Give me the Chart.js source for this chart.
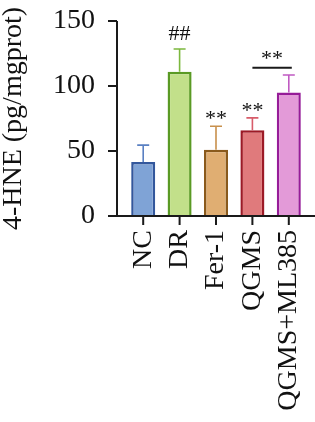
<!DOCTYPE html>
<html>
<head>
<meta charset="utf-8">
<script src="https://cdn.jsdelivr.net/npm/chart.js@4"></script>
<style>
    html, body { margin: 0; padding: 0; background: #fff; }
    #wrap { position: relative; width: 315px; height: 422px; }
</style>
</head>
<body>
<div id="wrap"><canvas id="chart1"></canvas></div>
<script>
const groups = ["NC", "DR", "Fer-1", "QGMS", "QGMS+ML385"];
const means = [41.5, 111, 51, 66, 95];
const errors = [13, 17.5, 18, 9.5, 13.5];
const marks = ["", "##", "**", "**", ""];
const yTicks = [0, 50, 100, 150];
// bracket between QGMS and QGMS+ML385
const bracketFrom = 3, bracketTo = 4, bracketValue = 114, bracketMark = "**";

const fills = ["#7fa3d6", "#c2e08a", "#e0ae72", "#e07a7c", "#e39ad8"];
const borders = ["#33579c", "#5a9a24", "#8a5a1c", "#9c1a26", "#961c98"];
const errColors = ["#5a80c2", "#7cb83e", "#c8904c", "#d85c6a", "#c05ac2"];

const serif = "'Times New Roman', 'Liberation Serif', 'DejaVu Serif', serif";
const axisColor = "#1a1a1a";

const extras = {
    id: "extras",
    afterDatasetsDraw(chart) {
        const { ctx, chartArea } = chart;
        const x = chart.scales.x, y = chart.scales.y;
        const axisX = chartArea.left - 8;
        const zeroY = y.getPixelForValue(0);
        ctx.save();

        // error bars (upper only)
        chart.getDatasetMeta(0).data.forEach((bar, i) => {
            const top = y.getPixelForValue(means[i] + errors[i]);
            ctx.strokeStyle = errColors[i];
            ctx.lineWidth = 1.6;
            ctx.beginPath();
            ctx.moveTo(bar.x, bar.y);
            ctx.lineTo(bar.x, top);
            ctx.moveTo(bar.x - 6, top);
            ctx.lineTo(bar.x + 6, top);
            ctx.stroke();
        });

        // axes
        ctx.strokeStyle = axisColor;
        ctx.lineWidth = 2;
        ctx.beginPath();
        ctx.moveTo(axisX, y.getPixelForValue(150));
        ctx.lineTo(axisX, zeroY);
        ctx.lineTo(chart.width, zeroY);
        yTicks.forEach(v => {
            const py = y.getPixelForValue(v);
            ctx.moveTo(axisX - 9, py);
            ctx.lineTo(axisX, py);
        });
        groups.forEach((g, i) => {
            const px = x.getPixelForValue(i);
            ctx.moveTo(px, zeroY);
            ctx.lineTo(px, zeroY + 9);
        });
        ctx.stroke();

        // significance marks
        ctx.fillStyle = "#111";
        ctx.font = "22px " + serif;
        ctx.textAlign = "center";
        ctx.textBaseline = "middle";
        marks.forEach((m, i) => {
            if (!m) return;
            const top = y.getPixelForValue(means[i] + errors[i]);
            const off = m === "##" ? 15 : 7;
            ctx.fillText(m, x.getPixelForValue(i), top - off);
        });

        const by = y.getPixelForValue(bracketValue);
        const bx1 = x.getPixelForValue(bracketFrom);
        const bx2 = x.getPixelForValue(bracketTo) + 3;
        ctx.lineWidth = 2;
        ctx.beginPath();
        ctx.moveTo(bx1, by);
        ctx.lineTo(bx2, by);
        ctx.stroke();
        ctx.fillText(bracketMark, (bx1 + bx2) / 2, by - 9);

        ctx.restore();
    },
};

const ctx1 = document.getElementById("chart1");
new Chart(ctx1, {
    type: "bar",
    data: {
        labels: groups,
        datasets: [
            {
                label: "4-HNE",
                data: means,
                backgroundColor: fills,
                borderColor: borders,
                borderWidth: 2.5,
                borderSkipped: "bottom",
                barPercentage: 0.66,
                categoryPercentage: 1,
            },
        ],
    },
    options: {
        responsive: true,
        maintainAspectRatio: false,
        animation: false,
        layout: {
            padding: { top: 21, right: 8, left: 0, bottom: 0 },
        },
        plugins: {
            legend: { display: false },
            tooltip: { enabled: false },
        },
        scales: {
            y: {
                min: 0,
                max: 150,
                border: { display: false },
                grid: { display: false, drawTicks: false },
                afterFit(scale) {
                    scale.width = 125;
                    scale.paddingTop = 0;
                    scale.paddingBottom = 0;
                },
                afterBuildTicks(scale) { scale.ticks = yTicks.map(v => ({ value: v })); },
                ticks: {
                    padding: 30,
                    color: "#111",
                    font: { size: 28, family: serif },
                },
                title: {
                    display: true,
                    text: "4-HNE (pg/mgprot)",
                    color: "#111",
                    padding: 0,
                    font: { size: 28, family: serif, lineHeight: 1 },
                },
            },
            x: {
                border: { display: false },
                grid: { display: false, drawTicks: false },
                afterFit(scale) {
                    scale.height = 206;
                    scale.paddingLeft = 0;
                    scale.paddingRight = 0;
                },
                ticks: {
                    padding: 14,
                    minRotation: 90,
                    maxRotation: 90,
                    autoSkip: false,
                    color: "#111",
                    font: { size: 28, family: serif },
                },
            },
        },
    },
    plugins: [extras],
});
</script>
</body>
</html>
